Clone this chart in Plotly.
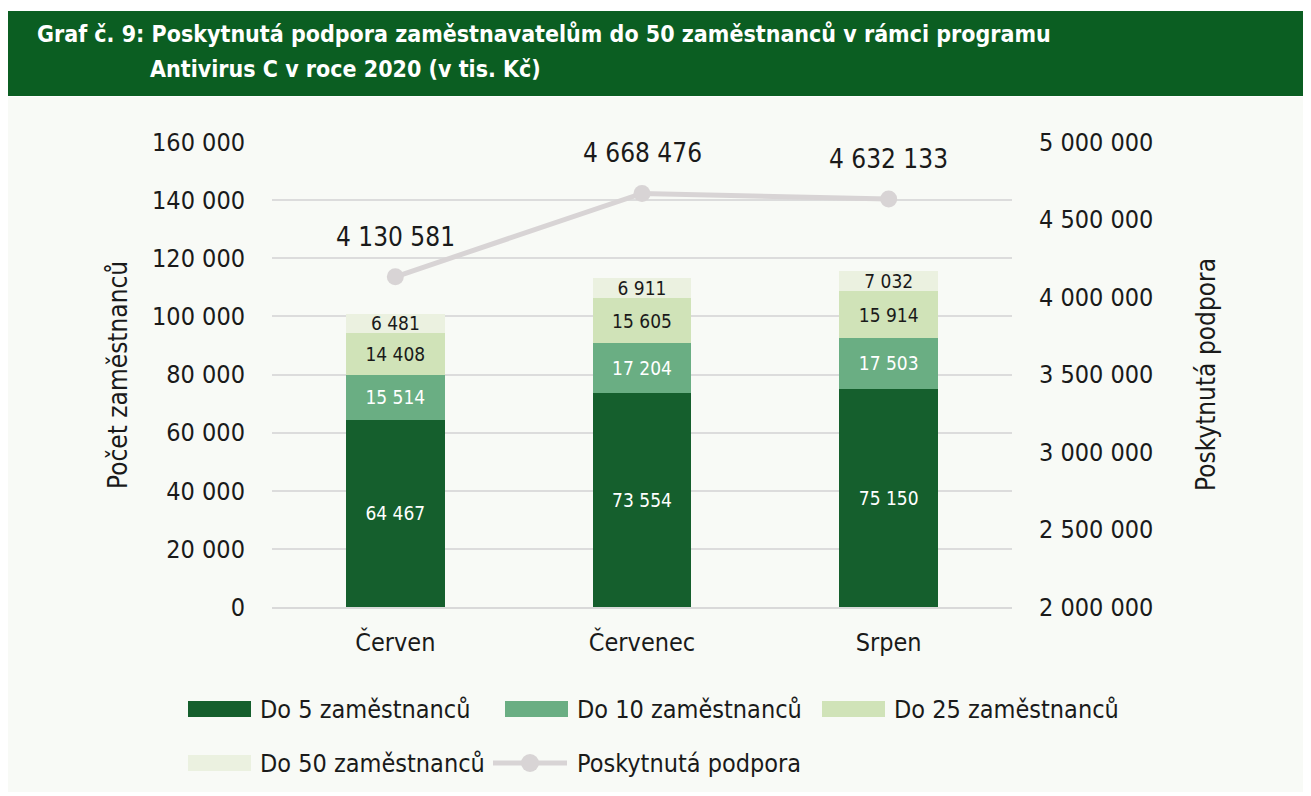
import plotly.graph_objects as go

# ---------------- data ----------------
months = ["Červen", "Červenec", "Srpen"]
series_names = ["Do 5 zaměstnanců", "Do 10 zaměstnanců", "Do 25 zaměstnanců", "Do 50 zaměstnanců"]
do5 = [64467, 73554, 75150]
do10 = [15514, 17204, 17503]
do25 = [14408, 15605, 15914]
do50 = [6481, 6911, 7032]
support_name = "Poskytnutá podpora"
support = [4130581, 4668476, 4632133]
left_title = "Počet zaměstnanců"

left_ticks = [0, 20000, 40000, 60000, 80000, 100000, 120000, 140000, 160000]
right_ticks = [2000000, 2500000, 3000000, 3500000, 4000000, 4500000, 5000000]

# ---------------- style ----------------
FONT = "DejaVu Sans Condensed, Liberation Sans Narrow, sans-serif"
TXT = "#1a1a1a"
bar_colors = ["#155f2d", "#6aae83", "#d0e3b8", "#ebf1e0"]
label_colors = ["white", "white", TXT, TXT]
line_color = "#d8d4d5"
W, H = 1311, 796
OFF = 8  # page body margin offset
# plot area in page pixels
PL, PR, PT, PB = 272, 1012, 142, 607
L, R, T, B = PL - OFF, PR - OFF, PT - OFF, PB - OFF


def fmt(v):
    return f"{v:,}".replace(",", " ")


def px(x):  # page px -> paper
    return (x - PL) / (PR - PL)


def py(y):
    return (PB - y) / (PB - PT)


fig = go.Figure()
for name, vals, col, lc in zip(series_names, [do5, do10, do25, do50], bar_colors, label_colors):
    fig.add_trace(go.Bar(
        x=months, y=vals, name=name, marker=dict(color=col, line=dict(width=0)),
        text=[fmt(v) for v in vals], textposition="inside", insidetextanchor="middle",
        constraintext="none", cliponaxis=False,
        textfont=dict(family=FONT, size=19, color=lc), showlegend=False,
        hoverinfo="skip",
    ))

fig.add_trace(go.Scatter(
    x=months, y=support, name=support_name, yaxis="y2", mode="lines+markers",
    line=dict(color=line_color, width=5), marker=dict(color=line_color, size=17),
    showlegend=False, hoverinfo="skip",
))

annotations = []
for m, v in zip(months, support):
    annotations.append(dict(x=m, y=v, xref="x", yref="y2", text=fmt(v), showarrow=False,
                            yshift=40, font=dict(family=FONT, size=26, color=TXT)))

shapes = [
    dict(type="rect", xref="paper", yref="paper", x0=px(7), x1=px(1311), y0=py(97), y1=py(792),
         fillcolor="#f8faf6", line=dict(width=0), layer="below"),
    dict(type="rect", xref="paper", yref="paper", x0=px(8), x1=px(1309), y0=py(11), y1=py(96),
         fillcolor="#0b5e22", line=dict(width=0), layer="below"),
]

# title
annotations.append(dict(xref="paper", yref="paper", x=px(35), y=py(34), xanchor="left", yanchor="middle",
                        text="<b>Graf č. 9: Poskytnutá podpora zaměstnavatelům do 50 zaměstnanců v rámci programu</b>",
                        showarrow=False, font=dict(family=FONT, size=23, color="white")))
annotations.append(dict(xref="paper", yref="paper", x=px(148), y=py(69), xanchor="left", yanchor="middle",
                        text="<b>Antivirus C v roce 2020 (v tis. Kč)</b>",
                        showarrow=False, font=dict(family=FONT, size=23, color="white")))

# axis titles
annotations.append(dict(xref="paper", yref="paper", x=px(118), y=py(375), textangle=-90,
                        xanchor="center", yanchor="middle", text=left_title, showarrow=False,
                        font=dict(family=FONT, size=26, color=TXT)))
annotations.append(dict(xref="paper", yref="paper", x=px(1206), y=py(375), textangle=-90,
                        xanchor="center", yanchor="middle", text=support_name, showarrow=False,
                        font=dict(family=FONT, size=26, color=TXT)))

# custom legend
legend_pos = [(188, 709), (505, 709), (822, 709), (188, 763)]
for name, col, (lx, ly) in zip(series_names, bar_colors, legend_pos):
    shapes.append(dict(type="rect", xref="paper", yref="paper", x0=px(lx), x1=px(lx + 63),
                       y0=py(ly + 8), y1=py(ly - 8), fillcolor=col, line=dict(width=0)))
    annotations.append(dict(xref="paper", yref="paper", x=px(lx + 70), y=py(ly), xanchor="left",
                            yanchor="middle", text=name, showarrow=False,
                            font=dict(family=FONT, size=25, color=TXT)))
shapes.append(dict(type="line", xref="paper", yref="paper", x0=px(493), x1=px(567), y0=py(763), y1=py(763),
                   line=dict(color=line_color, width=5)))
shapes.append(dict(type="circle", xref="paper", yref="paper", x0=px(521), x1=px(539), y0=py(772), y1=py(754),
                   fillcolor=line_color, line=dict(width=0)))
annotations.append(dict(xref="paper", yref="paper", x=px(575), y=py(763), xanchor="left", yanchor="middle",
                        text=support_name, showarrow=False, font=dict(family=FONT, size=25, color=TXT)))

fig.update_layout(
    width=W, height=H,
    margin=dict(l=L, r=W - R, t=T, b=H - B, pad=0),
    paper_bgcolor="white", plot_bgcolor="rgba(0,0,0,0)",
    barmode="stack", bargap=0.6,
    separators=", ",
    font=dict(family=FONT, size=24, color=TXT),
    showlegend=False,
    xaxis=dict(showgrid=False, showline=True, linecolor="#d9d9d9", linewidth=2,
               tickfont=dict(size=25), ticks="outside", ticklen=12, tickcolor="rgba(0,0,0,0)"),
    yaxis=dict(range=[0, 160000], tickvals=left_ticks, ticktext=[fmt(v) for v in left_ticks],
               showgrid=True, gridcolor="#dcdcdc", gridwidth=2, zeroline=False,
               tickfont=dict(size=25), ticklabelstandoff=26),
    yaxis2=dict(range=[2000000, 5000000], tickvals=right_ticks, ticktext=[fmt(v) for v in right_ticks],
                overlaying="y", side="right", showgrid=False, zeroline=False,
                tickfont=dict(size=25), ticklabelstandoff=26),
    shapes=shapes, annotations=annotations,
)

fig.write_html("out.html")
